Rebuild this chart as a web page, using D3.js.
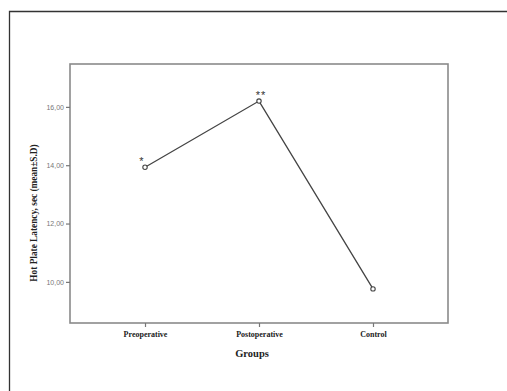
<!DOCTYPE html>
<html>
<head>
<meta charset="utf-8">
<script src="https://cdn.jsdelivr.net/npm/d3@7"></script>
<style>
  html, body { margin: 0; padding: 0; background: #fff; }
  svg { display: block; }
</style>
</head>
<body>
<svg id="chart" width="507" height="391"></svg>
<script>
// Hot plate latency by group (mean)
const groups = ["Preoperative", "Postoperative", "Control"];
const latency = [13.93, 16.2, 9.76];
const marks = ["*", "**", ""];
const yTicks = [10, 12, 14, 16];

const svg = d3.select("#chart");
const W = 507, H = 391;
const plot = { left: 70, top: 64, right: 448, bottom: 323 };

// outer frame (runs past the right and bottom edges)
svg.append("path")
  .attr("d", `M9.5,${H + 5}V11.5H${W + 5}`)
  .attr("fill", "none")
  .attr("stroke", "#333")
  .attr("stroke-width", 1.3);

const x = d3.scalePoint()
  .domain(groups)
  .range([plot.left, plot.right])
  .padding(0.658);

const y = d3.scaleLinear()
  .domain([8.59, 17.47])
  .range([plot.bottom, plot.top]);

// plot box
svg.append("rect")
  .attr("x", plot.left)
  .attr("y", plot.top)
  .attr("width", plot.right - plot.left)
  .attr("height", plot.bottom - plot.top)
  .attr("fill", "none")
  .attr("stroke", "#8a8a8a")
  .attr("stroke-width", 1.6);

// y axis
const yAxis = svg.append("g")
  .attr("transform", `translate(${plot.left},0)`)
  .call(d3.axisLeft(y).tickValues(yTicks).tickSize(4).tickPadding(2)
    .tickFormat(d => d3.format(".2f")(d).replace(".", ",")));
yAxis.select(".domain").remove();
yAxis.selectAll(".tick line").attr("stroke", "#777").attr("stroke-width", 1.2);
yAxis.selectAll(".tick text")
  .attr("fill", "#777")
  .style("font-family", "Liberation Sans, Arial, sans-serif")
  .style("font-size", "7px");

// x axis
const xAxis = svg.append("g")
  .attr("transform", `translate(0,${plot.bottom})`)
  .call(d3.axisBottom(x).tickSize(4).tickPadding(4));
xAxis.select(".domain").remove();
xAxis.selectAll(".tick line").attr("stroke", "#777").attr("stroke-width", 1.2);
xAxis.selectAll(".tick text")
  .attr("fill", "#222")
  .style("font-family", "Liberation Serif, Times New Roman, serif")
  .style("font-weight", "bold")
  .style("font-size", "8px");

// axis titles
svg.append("text")
  .attr("x", 252)
  .attr("y", 357)
  .attr("text-anchor", "middle")
  .attr("fill", "#222")
  .style("font-family", "Liberation Serif, Times New Roman, serif")
  .style("font-weight", "bold")
  .style("font-size", "10.5px")
  .text("Groups");

svg.append("text")
  .attr("transform", `translate(37,213) rotate(-90)`)
  .attr("text-anchor", "middle")
  .attr("fill", "#222")
  .style("font-family", "Liberation Serif, Times New Roman, serif")
  .style("font-weight", "bold")
  .style("font-size", "9.3px")
  .text("Hot Plate Latency, sec (mean±S.D)");

// line
const line = d3.line()
  .x((d, i) => x(groups[i]))
  .y(d => y(d));

svg.append("path")
  .datum(latency)
  .attr("d", line)
  .attr("fill", "none")
  .attr("stroke", "#444")
  .attr("stroke-width", 1.3);

// markers
svg.selectAll("circle.pt")
  .data(latency)
  .join("circle")
  .attr("class", "pt")
  .attr("cx", (d, i) => x(groups[i]))
  .attr("cy", d => y(d))
  .attr("r", 2.2)
  .attr("fill", "#fff")
  .attr("stroke", "#444")
  .attr("stroke-width", 1.1);

// significance marks
svg.selectAll("text.sig")
  .data(latency)
  .join("text")
  .attr("class", "sig")
  .attr("x", (d, i) => x(groups[i]) + (i === 0 ? -3 : 2))
  .attr("y", d => y(d) - 2)
  .attr("text-anchor", "middle")
  .attr("fill", "#333")
  .style("font-family", "Liberation Sans, Arial, sans-serif")
  .style("font-size", "11px")
  .style("letter-spacing", "1px")
  .text((d, i) => marks[i]);
</script>
</body>
</html>
